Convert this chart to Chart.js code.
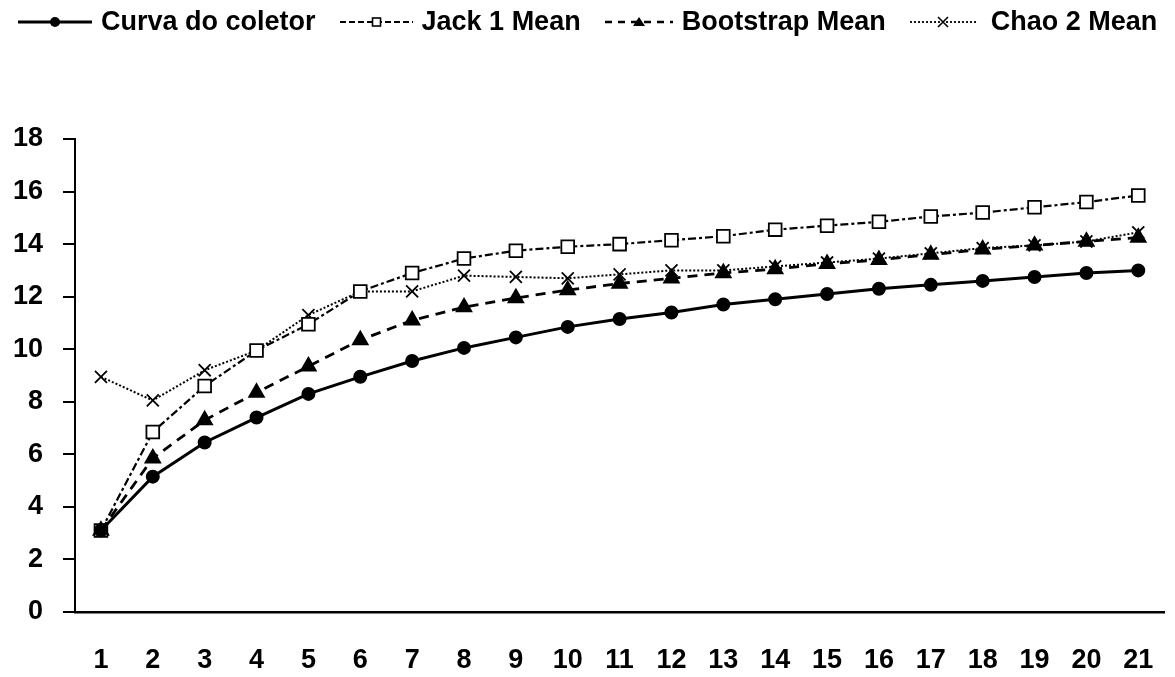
<!DOCTYPE html>
<html>
<head>
<meta charset="utf-8">
<script src="https://cdn.jsdelivr.net/npm/chart.js@4"></script>
<style>
  html, body { margin: 0; padding: 0; background: #fff; }
  #wrap { position: relative; width: 1175px; height: 677px; overflow: hidden; }
  #chartCanvas { position: absolute; left: 0; top: 0; }
  #legend {
    position: absolute; left: 18px; top: 6px;
    display: flex; align-items: center; white-space: nowrap;
    font-family: 'Liberation Sans', Arial, sans-serif; font-size: 27px; font-weight: bold; color: #000;
  }
  #legend .item { display: flex; align-items: center; margin-right: 24px; }
  #legend canvas { margin-right: 9px; }
  #legend .item:last-child canvas { margin-right: 15px; }
</style>
</head>
<body>
<div id="wrap">
  <canvas id="chartCanvas" width="1175" height="677"></canvas>
  <div id="legend"></div>
</div>
<script>
"use strict";

const samples = ['1', '2', '3', '4', '5', '6', '7', '8', '9', '10', '11', '12', '13', '14', '15', '16', '17', '18', '19', '20', '21'];
const curvaColetor = [3.1, 5.15, 6.45, 7.4, 8.3, 8.95, 9.55, 10.05, 10.45, 10.85, 11.15, 11.4, 11.7, 11.9, 12.1, 12.3, 12.45, 12.6, 12.75, 12.9, 13.0];
const jack1Mean = [3.1, 6.85, 8.6, 9.95, 10.95, 12.2, 12.9, 13.45, 13.75, 13.9, 14.0, 14.15, 14.3, 14.55, 14.7, 14.85, 15.05, 15.2, 15.4, 15.6, 15.85];
const bootstrapMean = [3.1, 5.85, 7.3, 8.35, 9.35, 10.35, 11.1, 11.6, 11.95, 12.25, 12.5, 12.7, 12.9, 13.05, 13.25, 13.4, 13.6, 13.8, 13.95, 14.1, 14.25];
const chao2Mean = [8.95, 8.05, 9.2, 9.95, 11.3, 12.2, 12.2, 12.8, 12.75, 12.7, 12.85, 13.0, 13.0, 13.15, 13.3, 13.45, 13.65, 13.85, 13.95, 14.1, 14.45];
const yTicks = [0, 2, 4, 6, 8, 10, 12, 14, 16, 18];

const TICK_FONT = { family: "'Liberation Sans', Arial, sans-serif", size: 27, weight: 'bold' };

const datasets = [{
    label: 'Curva do coletor',
    data: curvaColetor,
    borderColor: '#000',
    backgroundColor: '#000',
    borderWidth: 3,
    pointStyle: 'circle',
    pointRadius: 5.5,
    pointBackgroundColor: '#000',
    pointBorderColor: '#000'
}, {
    label: 'Jack 1 Mean',
    data: jack1Mean,
    borderColor: '#000',
    borderWidth: 2.2,
    borderDash: [8, 3, 3, 3],
    pointStyle: 'rect',
    pointRadius: 9,
    pointBorderWidth: 1.8,
    pointBackgroundColor: '#fff',
    pointBorderColor: '#000'
}, {
    label: 'Bootstrap Mean',
    data: bootstrapMean,
    borderColor: '#000',
    borderWidth: 2.8,
    borderDash: [10, 7],
    pointStyle: 'triangle',
    pointRadius: 7.5,
    pointBackgroundColor: '#000',
    pointBorderColor: '#000'
}, {
    label: 'Chao 2 Mean',
    data: chao2Mean,
    borderColor: '#000',
    borderWidth: 2,
    borderDash: [2, 2],
    pointStyle: 'crossRot',
    pointRadius: 8.5,
    pointBorderWidth: 1.8,
    pointBackgroundColor: '#000',
    pointBorderColor: '#000'
}];

// legend swatches: a short stretch of the line with its marker in the middle
function swatch(w, dash, width, drawMarker) {
    const c = document.createElement('canvas');
    c.width = w; c.height = 22;
    const g = c.getContext('2d');
    g.strokeStyle = '#000';
    g.lineWidth = width;
    g.setLineDash(dash);
    g.beginPath();
    g.moveTo(0, 11); g.lineTo(w, 11);
    g.stroke();
    g.setLineDash([]);
    drawMarker(g, w / 2, 11);
    return c;
}

const legendIcons = [
    swatch(74, [], 3, (g, x, y) => { g.fillStyle = '#000'; g.beginPath(); g.arc(x, y, 5, 0, Math.PI * 2); g.fill(); }),
    swatch(73, [6, 3], 2, (g, x, y) => { g.fillStyle = '#fff'; g.fillRect(x - 4, y - 4, 8, 8); g.lineWidth = 1.6; g.strokeRect(x - 4, y - 4, 8, 8); }),
    swatch(68, [7, 6], 2.6, (g, x, y) => { g.fillStyle = '#000'; g.beginPath(); g.moveTo(x, y - 5); g.lineTo(x + 6, y + 4); g.lineTo(x - 6, y + 4); g.closePath(); g.fill(); }),
    swatch(66, [2, 2], 1.8, (g, x, y) => { g.lineWidth = 1.6; g.beginPath(); g.moveTo(x - 5, y - 5); g.lineTo(x + 5, y + 5); g.moveTo(x + 5, y - 5); g.lineTo(x - 5, y + 5); g.stroke(); })
];

const legendEl = document.getElementById('legend');
datasets.forEach((ds, i) => {
    const item = document.createElement('div');
    item.className = 'item';
    item.appendChild(legendIcons[i]);
    const span = document.createElement('span');
    span.textContent = ds.label;
    item.appendChild(span);
    legendEl.appendChild(item);
});

const ctx = document.getElementById('chartCanvas').getContext('2d');
const chart = new Chart(ctx, {
    type: 'line',
    data: {
        labels: samples,
        datasets: datasets
    },
    options: {
        responsive: false,
        animation: false,
        layout: { padding: { left: 13, right: 3, top: 139, bottom: 0 } },
        plugins: {
            tooltip: { enabled: false },
            legend: { display: false }
        },
        scales: {
            x: {
                offset: true,
                grid: { display: false, drawTicks: false },
                border: { display: true, color: '#000', width: 2.5 },
                ticks: { color: '#000', padding: 32, font: TICK_FONT },
                afterFit: (scale) => {
                    scale.height = 65;
                    scale.paddingLeft = 0;
                    scale.paddingRight = 0;
                }
            },
            y: {
                min: 0,
                max: 18,
                afterBuildTicks: (axis) => { axis.ticks = yTicks.map(v => ({ value: v })); },
                grid: { drawOnChartArea: false, drawTicks: true, tickLength: 12, color: '#000', lineWidth: 2 },
                border: { display: true, color: '#000', width: 2 },
                ticks: { color: '#000', padding: 20, font: TICK_FONT },
                afterFit: (scale) => { scale.width = 62; }
            }
        }
    }
});
</script>
</body>
</html>
